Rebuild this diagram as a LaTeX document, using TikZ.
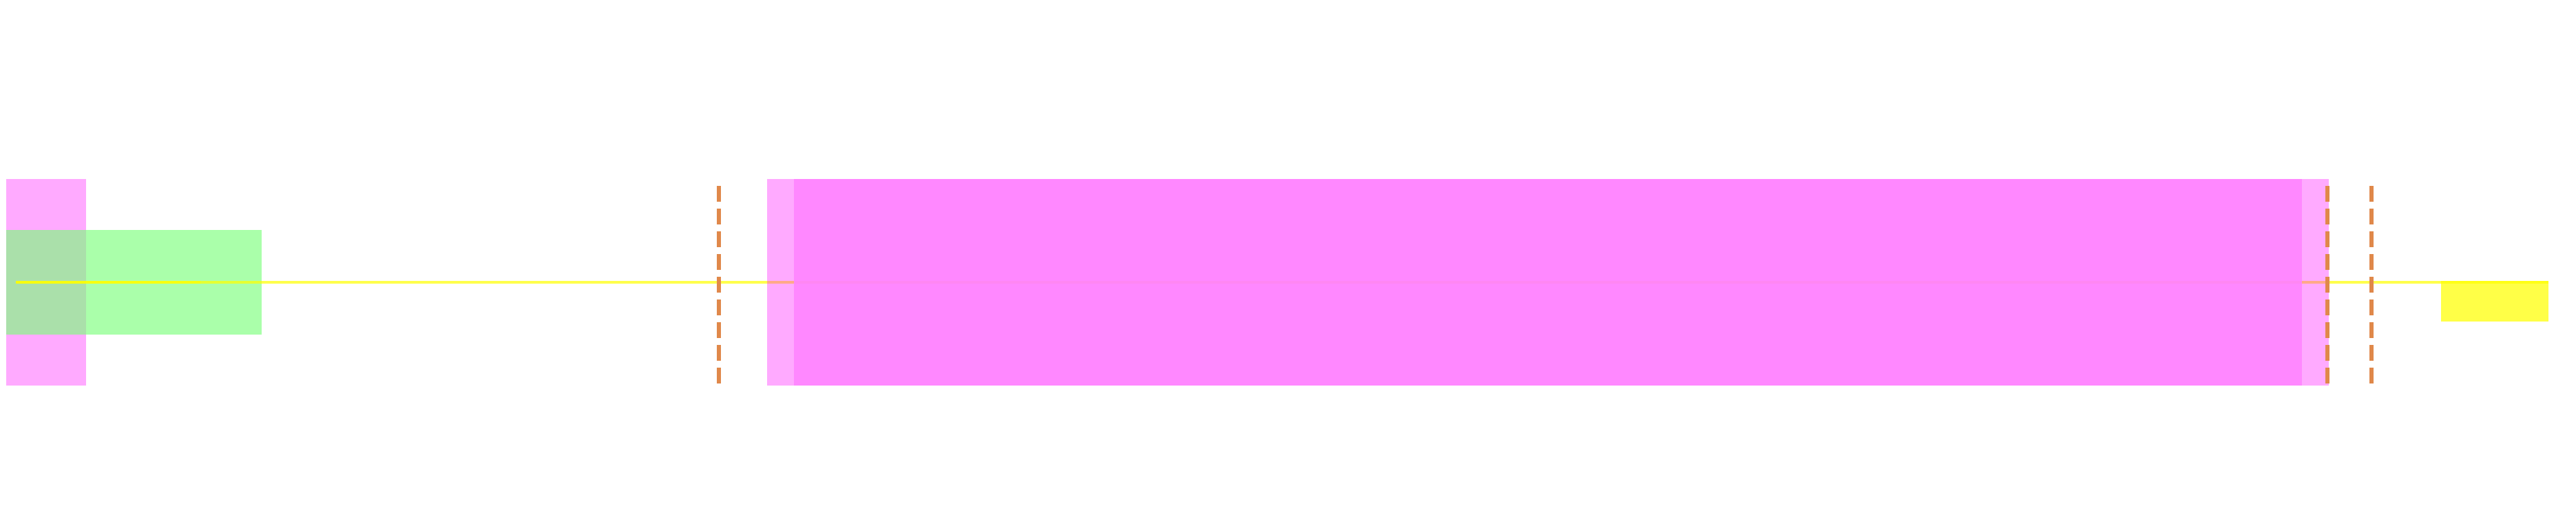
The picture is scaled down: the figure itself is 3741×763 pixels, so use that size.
\documentclass[tikz,border=0pt]{standalone}
\usepackage{tikz}
\usepackage{xcolor}
\definecolor{cutorange}{RGB}{224,136,74}
\definecolor{padgreen}{RGB}{124,255,124}
\definecolor{barpink}{RGB}{255,0,255}
\definecolor{corepink}{RGB}{255,132,255}
\definecolor{beamyellow}{RGB}{255,255,0}

\begin{document}
\begin{tikzpicture}[
    x=0.01cm, y=-0.01cm,
    pinkbar/.style={fill=barpink, fill opacity=0.333},
    pinkcore/.style={fill=corepink, fill opacity=0.9},
    greenpad/.style={fill=padgreen, fill opacity=0.65},
    beam/.style={draw=beamyellow, draw opacity=0.7, line width=0.04cm},
    tipbox/.style={fill=beamyellow, fill opacity=0.72},
    cutline/.style={draw=cutorange, line width=0.06cm, dash pattern=on 0.23cm off 0.10cm}
  ]
    \useasboundingbox (0,0) rectangle (3741,763);

    % left holder
    \fill[pinkbar]  (9,260) rectangle (125,560);
    \fill[greenpad] (9,334) rectangle (380,486);

    % beam
    \draw[beam] (23,410) -- (3701,410);
    \draw[beam] (23,410) -- (291,410);

    % main body
    \fill[pinkbar]  (1114,260) rectangle (3382,560);
    \fill[pinkcore] (1153,260) rectangle (3343,560);

    % tip
    \fill[tipbox] (3545,408) rectangle (3701,467);

    % cut marks
    \foreach \xc in {1044,3380,3444}
      \draw[cutline] (\xc,270) -- (\xc,558);
  \end{tikzpicture}
\end{document}
